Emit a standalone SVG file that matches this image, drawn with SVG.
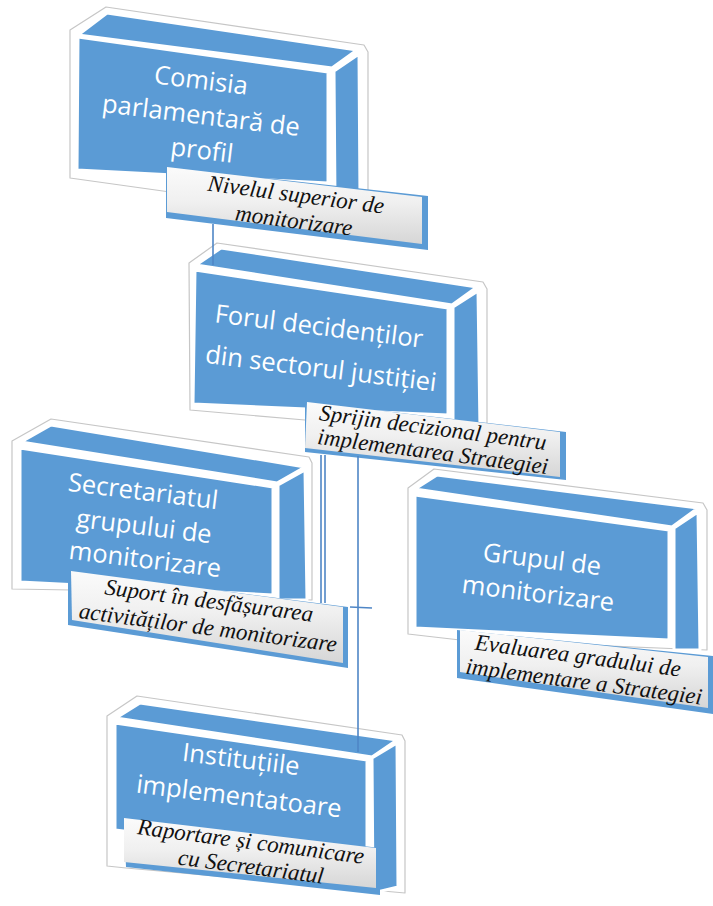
<svg xmlns="http://www.w3.org/2000/svg" width="713" height="906" viewBox="0 0 713 906">
<defs>
<linearGradient id="lg" x1="0" y1="0" x2="0" y2="1">
<stop offset="0" stop-color="#fbfbfb"/>
<stop offset="0.45" stop-color="#f0f0f0"/>
<stop offset="1" stop-color="#d6d6d6"/>
</linearGradient>
<style>
.halo{fill:#fff;stroke:#c6c6c6;stroke-width:1.2;stroke-linejoin:round}
.face{fill:#5b9bd5;stroke:#fff;stroke-width:3;stroke-linejoin:round}
.lb{fill:#5b9bd5}
.lf{fill:url(#lg)}
.t{font-family:"Open Sans","Noto Sans",sans-serif;font-size:25.5px;fill:#fff;text-anchor:middle}
.lt{font-family:"Liberation Serif","Times New Roman",serif;font-style:italic;font-size:23px;fill:#111;text-anchor:middle}
.conn{stroke:#4f86c6;stroke-width:1.6;fill:none}
</style>
</defs>
<rect width="713" height="906" fill="#fff"/>

<g id="node-comisia">
<polygon class="halo" points="70,30 106,7 364,45 368,52 368,205 170,192 70,178"/>
<polygon class="face" points="78,35 107,13 357,50 332,68"/>
<polygon class="face" points="334,71 359,54 360,200 335,200"/>
<polygon class="face" points="78,37 328,72 328,183 77,170"/>
<text class="t" x="200" y="89" transform="rotate(7 200 89)">Comisia</text>
<text class="t" x="200" y="124" transform="rotate(7 200 124)">parlamentară de</text>
<text class="t" x="201" y="159" transform="rotate(7 201 159)">profil</text>
<polygon class="lb" points="166,167 428,196 428,250 166,218"/>
<polygon class="lf" points="167,167 422,197 422,244 167,212"/>
<text class="lt" x="295" y="202" transform="rotate(7.5 295 202)">Nivelul superior de</text>
<text class="lt" x="293" y="228" transform="rotate(7.5 293 228)">monitorizare</text>
</g>

<g id="node-forul">
<polygon class="halo" points="189,263 217,243 483,282 487,289 487,430 305,420 190,410"/>
<polygon class="face" points="196,265 221,248 477,287 452,305"/>
<polygon class="face" points="453,307 478,291 480,430 453,430"/>
<polygon class="face" points="195,270 448,308 448,415 193,404"/>
<text class="t" x="318" y="335" font-size="26.5" transform="rotate(7 318 335)">Forul decidenților</text>
<text class="t" x="320" y="377" font-size="26.5" transform="rotate(7 320 377)">din sectorul justiției</text>
<polygon class="lb" points="305,402 566,432 566,480 305,452"/>
<polygon class="lf" points="307,402 560,432 560,477 305,448"/>
<text class="lt" x="432" y="435" transform="rotate(7.5 432 435)">Sprijin decizional pentru</text>
<text class="lt" x="432" y="459" transform="rotate(7.5 432 459)">implementarea Strategiei</text>
</g>

<g id="node-secretariat">
<polygon class="halo" points="12,441 51,419 309,457 312,463 312,600 72,590 12,589"/>
<polygon class="face" points="21,442 51,425 305,467 277,483"/>
<polygon class="face" points="278,485 305,470 307,600 278,600"/>
<polygon class="face" points="20,448 273,487 273,595 20,582"/>
<text class="t" x="142" y="500" transform="rotate(7 142 500)">Secretariatul</text>
<text class="t" x="143" y="535" transform="rotate(7 143 535)">grupului de</text>
<text class="t" x="144" y="568" transform="rotate(7 144 568)">monitorizare</text>
<polygon class="lb" points="68,571 348,607 348,668 68,625"/>
<polygon class="lf" points="71,571 343,607 343,663 72,620"/>
<text class="lt" x="208" y="608" transform="rotate(7.5 208 608)">Suport în desfășurarea</text>
<text class="lt" x="207" y="635" transform="rotate(7.5 207 635)">activităților de monitorizare</text>
</g>

<g id="node-grupul">
<polygon class="halo" points="408,488 434,469 703,503 707,510 707,650 460,640 408,634"/>
<polygon class="face" points="415,489 437,475 698,508 672,527"/>
<polygon class="face" points="674,528 698,512 700,650 674,650"/>
<polygon class="face" points="415,495 669,530 669,640 415,628"/>
<text class="t" x="541" y="568" transform="rotate(7 541 568)">Grupul de</text>
<text class="t" x="537" y="602" transform="rotate(7 537 602)">monitorizare</text>
<polygon class="lb" points="457,630 713,656 713,714 457,678"/>
<polygon class="lf" points="460,630 708,657 708,708 460,672"/>
<text class="lt" x="577" y="663" transform="rotate(7.5 577 663)">Evaluarea gradului de</text>
<text class="lt" x="583" y="689" transform="rotate(7.5 583 689)">implementare a Strategiei</text>
</g>

<g id="node-institutii">
<polygon class="halo" points="107,716 137,696 402,735 405,741 405,893 126,868 107,866"/>
<polygon class="face" points="116,718 140,703 397,740 372,757"/>
<polygon class="face" points="372,758 397,743 398,887 373,893"/>
<polygon class="face" points="115,723 367,760 367,860 115,830"/>
<text class="t" x="240" y="768" transform="rotate(7 240 768)">Instituțiile</text>
<text class="t" x="238" y="805" transform="rotate(7 238 805)">implementatoare</text>
<polygon class="lb" points="124,818 380,848 380,895 126,867"/>
<polygon class="lf" points="124,818 376,848 376,888 124,862"/>
<text class="lt" x="250" y="849" transform="rotate(7.5 250 849)">Raportare și comunicare</text>
<text class="lt" x="250" y="874" transform="rotate(7.5 250 874)">cu Secretariatul</text>
</g>

<g id="connectors">
<line class="conn" x1="213" y1="224" x2="213" y2="265"/>
<line class="conn" x1="321" y1="455" x2="321" y2="603"/>
<line class="conn" x1="325" y1="455" x2="325" y2="603"/>
<line class="conn" x1="350" y1="607" x2="372" y2="608"/>
<line class="conn" x1="358" y1="456" x2="358" y2="752"/>
</g>
</svg>
